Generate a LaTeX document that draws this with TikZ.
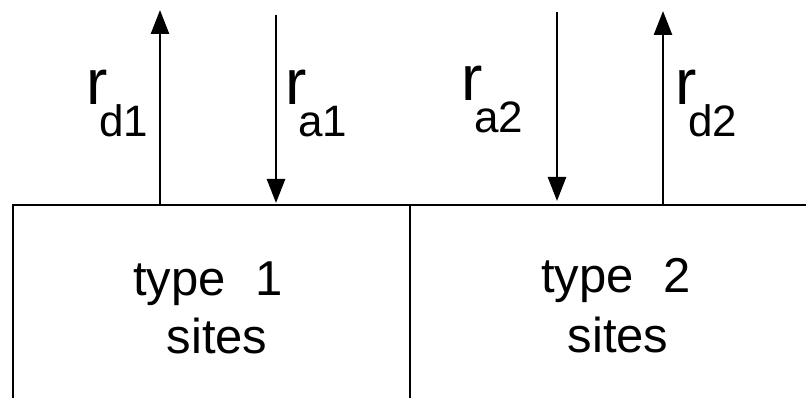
\documentclass[tikz,border=0pt]{standalone}
\usepackage{fontspec}
\setmainfont{Liberation Sans}
\usetikzlibrary{arrows.meta}
\tikzset{
  frame/.style={line width=2.8pt, line cap=rect},
  flux/.style={line width=2.6pt, -{Triangle[length=24pt,width=18pt]}},
  boxtext/.style={anchor=base, inner sep=0pt, font=\fontsize{49}{49}\selectfont},
  ratelabel/.style={anchor=base west, inner sep=0pt},
}
\newcommand{\ratesym}[1]{{\fontsize{64}{64}\selectfont r}\kern-8pt\raisebox{-32pt}{\fontsize{44}{44}\selectfont #1}}
\begin{document}
\begin{tikzpicture}[x=1pt,y=-1pt]
\useasboundingbox (0,0) rectangle (806,398);
\fill[white] (0,0) rectangle (806,398);
% frame
\coordinate (lb) at (13,398);
\coordinate (lt) at (13,205);
\coordinate (rt) at (806,205);
\coordinate (mt) at (410,205);
\coordinate (mb) at (410,398);
\draw[frame] (lb) -- (lt) -- (rt);
\draw[frame] (mt) -- (mb);
% arrow end points
\coordinate (d1b) at (160,205);
\coordinate (d1t) at (160,10);
\coordinate (a1t) at (276,15);
\coordinate (a1b) at (276,203);
\coordinate (a2t) at (557,12);
\coordinate (a2b) at (557,201);
\coordinate (d2b) at (663,205);
\coordinate (d2t) at (663,11);
\draw[flux] (d1b) -- (d1t);
\draw[flux] (a1t) -- (a1b);
\draw[flux] (a2t) -- (a2b);
\draw[flux] (d2b) -- (d2t);
% labels
\node[ratelabel] (ld1) at (86,105) {\ratesym{d1}};
\node[ratelabel] (la1) at (285,105) {\ratesym{a1}};
\node[ratelabel] (la2) at (461,101) {\ratesym{a2}};
\node[ratelabel] (ld2) at (675,105) {\ratesym{d2}};
% box texts
\node[boxtext] (t1) at (208,295) {type\hspace{0.6em}1};
\node[boxtext] (s1) at (217,353) {sites};
\node[boxtext] (t2) at (616,292) {type\hspace{0.6em}2};
\node[boxtext] (s2) at (618,352) {sites};
\end{tikzpicture}
\end{document}
